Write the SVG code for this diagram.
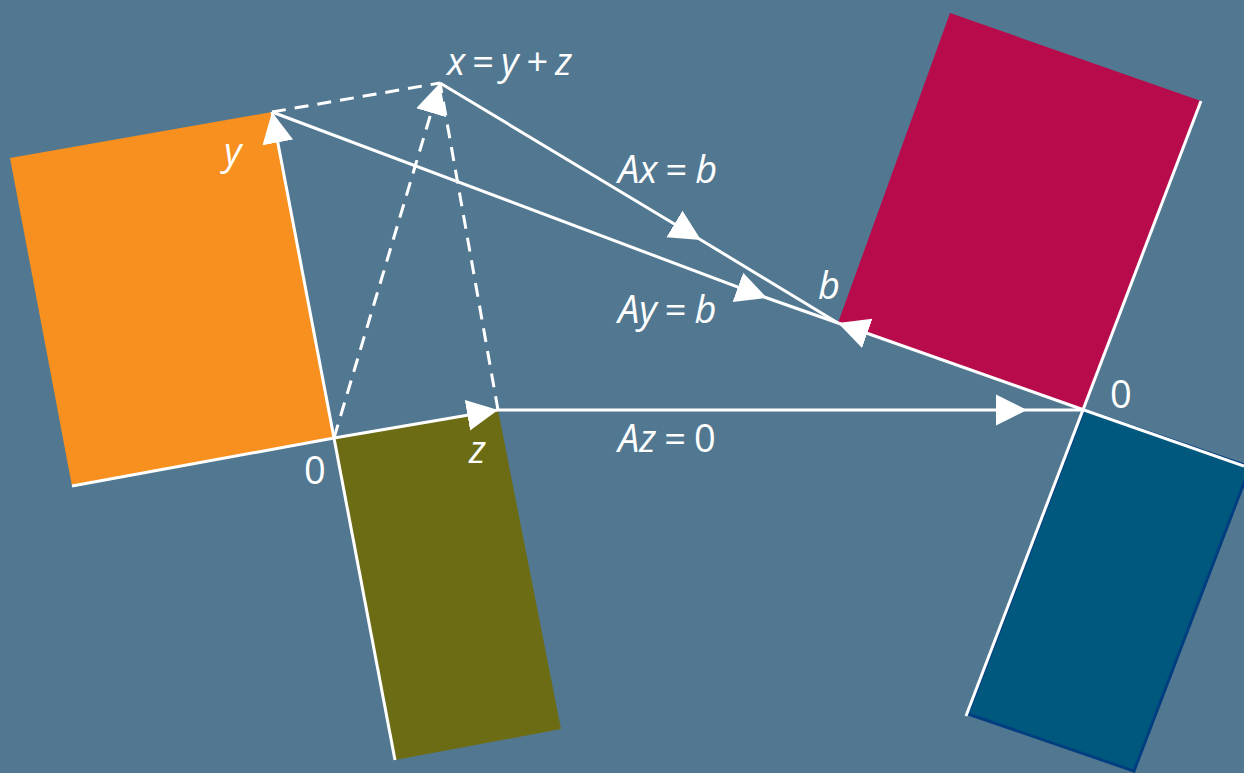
<svg xmlns="http://www.w3.org/2000/svg" width="1244" height="773" viewBox="0 0 1244 773">
<style>
.ln{stroke:#fff;stroke-width:3;fill:none}
.ds{stroke:#fff;stroke-width:3;fill:none;stroke-dasharray:14 9}
.lb{font-family:"Open Sans","DejaVu Sans",sans-serif;font-size:38px;fill:#fff}
.it{font-style:italic}
.up{font-style:normal}
</style>
<defs>
<marker id="ar" markerUnits="userSpaceOnUse" markerWidth="34" markerHeight="34" viewBox="0 -17 34 34" refX="31" refY="0" orient="auto">
<path d="M0,-15.5 L31,0 L0,15.5 z" fill="#fff"/>
</marker>
</defs>
<rect width="1244" height="773" fill="#527891"/>
<g id="orange"><polygon points="10,158 272,112 334,438 72,486" fill="#F7901E"/></g>
<g id="olive"><polygon points="334,438 498,410 561,729 395,760" fill="#6C6C15"/></g>
<g id="crimson"><polygon points="950,13 1201,101 1084,410 838,323" fill="#B80B4B"/></g>
<g id="blue"><polygon points="1084,410 1250,467 1134,771 968,714" fill="#00587E" stroke="#003F7F" stroke-width="3"/></g>
<g id="connectors">
<line class="ln" x1="334" y1="438" x2="72" y2="486"/>
<line class="ln" x1="334" y1="438" x2="395" y2="760"/>
<line class="ln" x1="1201" y1="101" x2="966" y2="716"/>
<line class="ln" x1="1084" y1="410" x2="1244" y2="466"/>
<line class="ln" x1="334" y1="438" x2="272" y2="112" marker-end="url(#ar)"/>
<line class="ln" x1="334" y1="438" x2="498" y2="410" marker-end="url(#ar)"/>
<line class="ds" x1="272" y1="112" x2="440" y2="83"/>
<line class="ds" x1="334" y1="438" x2="440" y2="83" marker-end="url(#ar)"/>
<line class="ds" x1="498" y1="410" x2="440" y2="83"/>
<path class="ln" d="M440,83 L701,240 L838,323" marker-mid="url(#ar)"/>
<path class="ln" d="M272,112 L767,298 L838,323" marker-mid="url(#ar)"/>
<line class="ln" x1="1084" y1="410" x2="838" y2="323" marker-end="url(#ar)"/>
<path class="ln" d="M498,410 L1027,410 L1084,410" marker-mid="url(#ar)"/>
</g>
<g id="labels">
<text class="lb it" x="447" y="75">x<tspan class="up" dx="7">=</tspan><tspan dx="7">y</tspan><tspan class="up" dx="8">+</tspan><tspan dx="7">z</tspan></text>
<text class="lb it" x="618" y="183">Ax<tspan class="up" dx="8">=</tspan><tspan dx="8">b</tspan></text>
<text class="lb it" x="618" y="323">Ay<tspan class="up" dx="8">=</tspan><tspan dx="8">b</tspan></text>
<text class="lb it" x="618" y="452">Az<tspan class="up" dx="8">=</tspan><tspan class="up" dx="8">0</tspan></text>
<text class="lb it" x="224" y="165">y</text>
<text class="lb it" x="469" y="463">z</text>
<text class="lb it" x="818" y="299">b</text>
<text class="lb" x="304" y="484">0</text>
<text class="lb" x="1110" y="408">0</text>
</g>
</svg>
